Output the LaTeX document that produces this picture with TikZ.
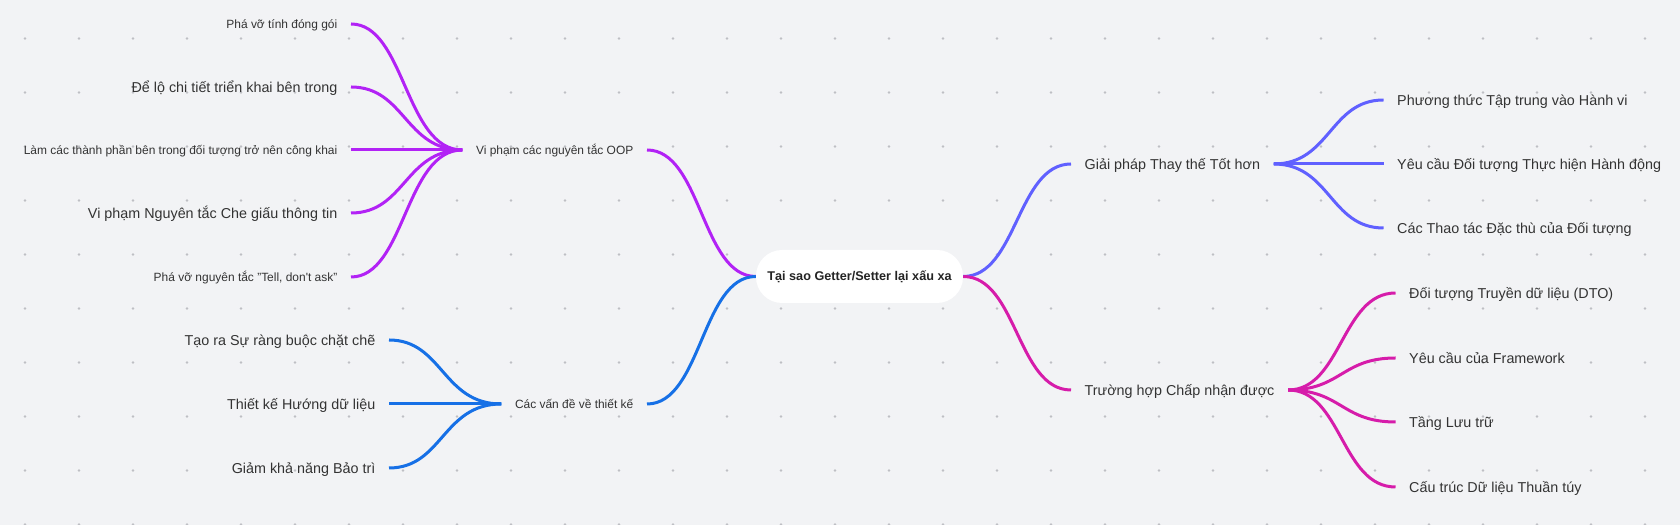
\documentclass[tikz,border=0pt]{standalone}
\usepackage{fontspec}
\setmainfont{Liberation Sans}
\definecolor{bgc}{RGB}{242,243,245}
\definecolor{dotc}{RGB}{190,191,196}
\definecolor{ink}{RGB}{51,51,51}
\definecolor{oopc}{RGB}{178,34,245}
\definecolor{designc}{RGB}{22,112,230}
\definecolor{betterc}{RGB}{96,96,255}
\definecolor{acceptc}{RGB}{214,28,170}
\begin{document}
\begin{tikzpicture}[x=1bp,y=1bp,
  leaf/.style={inner xsep=13.5bp,inner ysep=0bp,text=ink},
  sm/.style={leaf,font=\fontsize{12}{14}\selectfont,text height=12.6bp,text depth=3bp},
  lg/.style={leaf,font=\fontsize{14.4}{17}\selectfont,text height=14.4bp,text depth=3.6bp},
  root/.style={fill=white,rounded corners=26bp,minimum width=207bp,minimum height=53bp,inner sep=0bp,
    text=ink!70!black,font=\bfseries\fontsize{12.7}{15}\selectfont},
  link/.style={line width=3bp},
]
%%
\useasboundingbox (0,0) rectangle (1680,525);
\fill [bgc] (0,0) rectangle (1680,525);
\foreach \i in {0,...,30}
  \foreach \j in {0,...,9}
    \fill [dotc] (25+54*\i,486.5-54*\j) circle (1.4bp);
%
\node (node_0) at (859.5bp,248.5bp) [root] {Tại sao Getter/Setter lại xấu xa};
  \node (node_1) at (647bp,375bp) [sm,anchor=east] {Vi phạm các nguyên tắc OOP};
  \node (node_2) at (647bp,121bp) [sm,anchor=east] {Các vấn đề về thiết kế};
  \node (node_3) at (1071bp,361bp) [lg,anchor=west] {Giải pháp Thay thế Tốt hơn};
  \node (node_4) at (1071bp,135bp) [lg,anchor=west] {Trường hợp Chấp nhận được};
  \node (node_5) at (351bp,501bp) [sm,anchor=east] {Phá vỡ tính đóng gói};
  \node (node_6) at (351bp,438bp) [lg,anchor=east] {Để lộ chi tiết triển khai bên trong};
  \node (node_7) at (351bp,375bp) [sm,anchor=east] {Làm các thành phần bên trong đối tượng trở nên công khai};
  \node (node_8) at (351bp,312bp) [lg,anchor=east] {Vi phạm Nguyên tắc Che giấu thông tin};
  \node (node_9) at (351bp,248bp) [sm,anchor=east] {Phá vỡ nguyên tắc "Tell, don\textquotesingle t ask"};
  \node (node_10) at (389bp,185bp) [lg,anchor=east] {Tạo ra Sự ràng buộc chặt chẽ};
  \node (node_11) at (389bp,121bp) [lg,anchor=east] {Thiết kế Hướng dữ liệu};
  \node (node_12) at (389bp,57bp) [lg,anchor=east] {Giảm khả năng Bảo trì};
  \node (node_13) at (1383.5bp,425bp) [lg,anchor=west] {Phương thức Tập trung vào Hành vi};
  \node (node_14) at (1383.5bp,361bp) [lg,anchor=west] {Yêu cầu Đối tượng Thực hiện Hành động};
  \node (node_15) at (1383.5bp,297bp) [lg,anchor=west] {Các Thao tác Đặc thù của Đối tượng};
  \node (node_16) at (1395.5bp,232bp) [lg,anchor=west] {Đối tượng Truyền dữ liệu (DTO)};
  \node (node_17) at (1395.5bp,167bp) [lg,anchor=west] {Yêu cầu của Framework};
  \node (node_18) at (1395.5bp,103bp) [lg,anchor=west] {Tầng Lưu trữ};
  \node (node_19) at (1395.5bp,38bp) [lg,anchor=west] {Cấu trúc Dữ liệu Thuần túy};
  \draw [oopc,link] (node_0.west) ..controls (701.5bp,248.5bp) and (701.5bp,375bp)  .. (node_1.east);
  \draw [designc,link] (node_0.west) ..controls (701.5bp,248.5bp) and (701.5bp,121bp)  .. (node_2.east);
  \draw [betterc,link] (node_0.east) ..controls (1017bp,248.5bp) and (1017bp,361bp)  .. (node_3.west);
  \draw [acceptc,link] (node_0.east) ..controls (1017bp,248.5bp) and (1017bp,135bp)  .. (node_4.west);
  \draw [oopc,link] (node_1.west) ..controls (405bp,375bp) and (405bp,501bp)  .. (node_5.east);
  \draw [oopc,link] (node_1.west) ..controls (405bp,375bp) and (405bp,438bp)  .. (node_6.east);
  \draw [oopc,link] (node_1.west) ..controls (405bp,375bp) and (405bp,375bp)  .. (node_7.east);
  \draw [oopc,link] (node_1.west) ..controls (405bp,375bp) and (405bp,312bp)  .. (node_8.east);
  \draw [oopc,link] (node_1.west) ..controls (405bp,375bp) and (405bp,248bp)  .. (node_9.east);
  \draw [designc,link] (node_2.west) ..controls (442.5bp,121bp) and (442.5bp,185bp)  .. (node_10.east);
  \draw [designc,link] (node_2.west) ..controls (442.5bp,121bp) and (442.5bp,121bp)  .. (node_11.east);
  \draw [designc,link] (node_2.west) ..controls (442.5bp,121bp) and (442.5bp,57bp)  .. (node_12.east);
  \draw [betterc,link] (node_3.east) ..controls (1330bp,361bp) and (1330bp,425bp)  .. (node_13.west);
  \draw [betterc,link] (node_3.east) ..controls (1330bp,361bp) and (1330bp,361bp)  .. (node_14.west);
  \draw [betterc,link] (node_3.east) ..controls (1330bp,361bp) and (1330bp,297bp)  .. (node_15.west);
  \draw [acceptc,link] (node_4.east) ..controls (1341.5bp,135bp) and (1341.5bp,232bp)  .. (node_16.west);
  \draw [acceptc,link] (node_4.east) ..controls (1341.5bp,135bp) and (1341.5bp,167bp)  .. (node_17.west);
  \draw [acceptc,link] (node_4.east) ..controls (1341.5bp,135bp) and (1341.5bp,103bp)  .. (node_18.west);
  \draw [acceptc,link] (node_4.east) ..controls (1341.5bp,135bp) and (1341.5bp,38bp)  .. (node_19.west);
%
\end{tikzpicture}
\end{document}
